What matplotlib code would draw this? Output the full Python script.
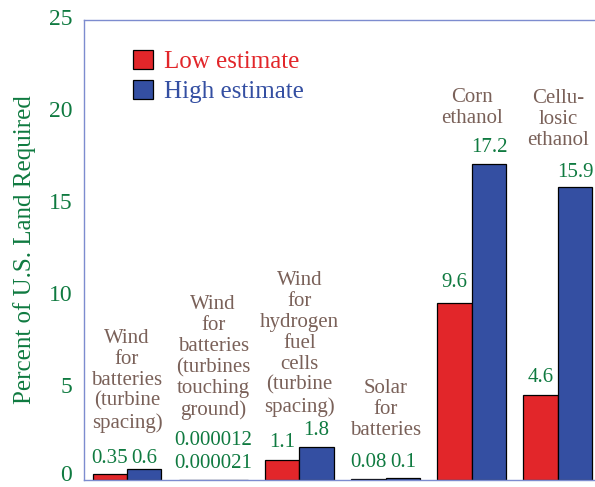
import numpy as np
import matplotlib
matplotlib.use('Agg')
import matplotlib.pyplot as plt
import matplotlib.transforms as mtransforms
from matplotlib.patches import Patch

plt.rcParams['font.family'] = ['Liberation Serif', 'DejaVu Serif']

# Dados
categorias = ['Wind\nfor\nbatteries\n(turbine\nspacing)',
              'Wind\nfor\nbatteries\n(turbines\ntouching\nground)',
              'Wind\nfor\nhydrogen\nfuel\ncells\n(turbine\nspacing)',
              'Solar\nfor\nbatteries',
              'Corn\nethanol',
              'Cellu-\nlosic\nethanol']
low_estimate = [0.35, 0.000012, 1.1, 0.08, 9.6, 4.6]
high_estimate = [0.6, 0.000021, 1.8, 0.1, 17.2, 15.9]
yticks = [0, 5, 10, 15, 20, 25]

# Layout dos rotulos (baseline em unidades do eixo)
low_label_y = [0.92, 1.90, 1.79, 0.71, 10.49, 5.33]
high_label_y = [0.92, 0.65, 2.45, 0.71, 17.83, 16.47]
cat_label_y = [2.83, 3.53, 3.70, 2.45, 19.40, 18.21]

RED = '#e2262a'
BLUE = '#344fa2'
GREEN = '#0f7a40'
BROWN = '#7a6159'
SPINE = '#7d8ccf'

fig = plt.figure(figsize=(5.95, 4.87), dpi=100)
ax = fig.add_axes([0.1412, 0.01437, 0.8588, 0.9446])

x = np.arange(len(categorias))
w = 0.40
ax.bar(x - w / 2, low_estimate, w, color=RED, edgecolor='black', linewidth=0.9)
ax.bar(x + w / 2, high_estimate, w, color=BLUE, edgecolor='black', linewidth=0.9)

for i in range(len(categorias)):
    if i == 1:
        xl = xh = x[i]
    else:
        xl, xh = x[i] - w / 2, x[i] + w / 2
    ax.text(xl, low_label_y[i], np.format_float_positional(low_estimate[i]),
            ha='center', va='baseline', color=GREEN, fontsize=15)
    ax.text(xh, high_label_y[i], np.format_float_positional(high_estimate[i]),
            ha='center', va='baseline', color=GREEN, fontsize=15)
    ax.text(x[i], cat_label_y[i] - 0.25, categorias[i], ha='center', va='bottom',
            color=BROWN, fontsize=15, linespacing=1.13)

ax.set_xlim(-0.499, 5.43)
ax.set_ylim(0, 25)
ax.set_xticks([])
ax.set_yticks(yticks)
ax.tick_params(axis='y', length=0, pad=8.6, labelsize=17, labelcolor=GREEN)

# rotulos do eixo y levemente acima da marca (como no original)
for k, lab in enumerate(ax.get_yticklabels()):
    dy = 7.5 if k == 0 else 3
    lab.set_transform(lab.get_transform() +
                      mtransforms.ScaledTranslation(0, dy / 100, fig.dpi_scale_trans))

for lado in ['top', 'left', 'bottom']:
    ax.spines[lado].set_color(SPINE)
    ax.spines[lado].set_linewidth(1.0)
ax.spines['right'].set_visible(False)

ax.set_ylabel('Percent of U.S. Land Required', color=GREEN, fontsize=18)
ax.yaxis.set_label_coords(-0.094, 0.5)

handles = [Patch(facecolor=RED, edgecolor='black', linewidth=0.9),
           Patch(facecolor=BLUE, edgecolor='black', linewidth=0.9)]
ax.legend(handles, ['Low estimate', 'High estimate'], loc='upper left',
          bbox_to_anchor=(0.0959, 0.935), frameon=False, fontsize=18,
          labelcolor=[RED, BLUE], handlelength=0.78, handleheight=0.78,
          handletextpad=0.47, borderpad=0, borderaxespad=0, labelspacing=0.27)

plt.savefig('out.png', dpi=100)
